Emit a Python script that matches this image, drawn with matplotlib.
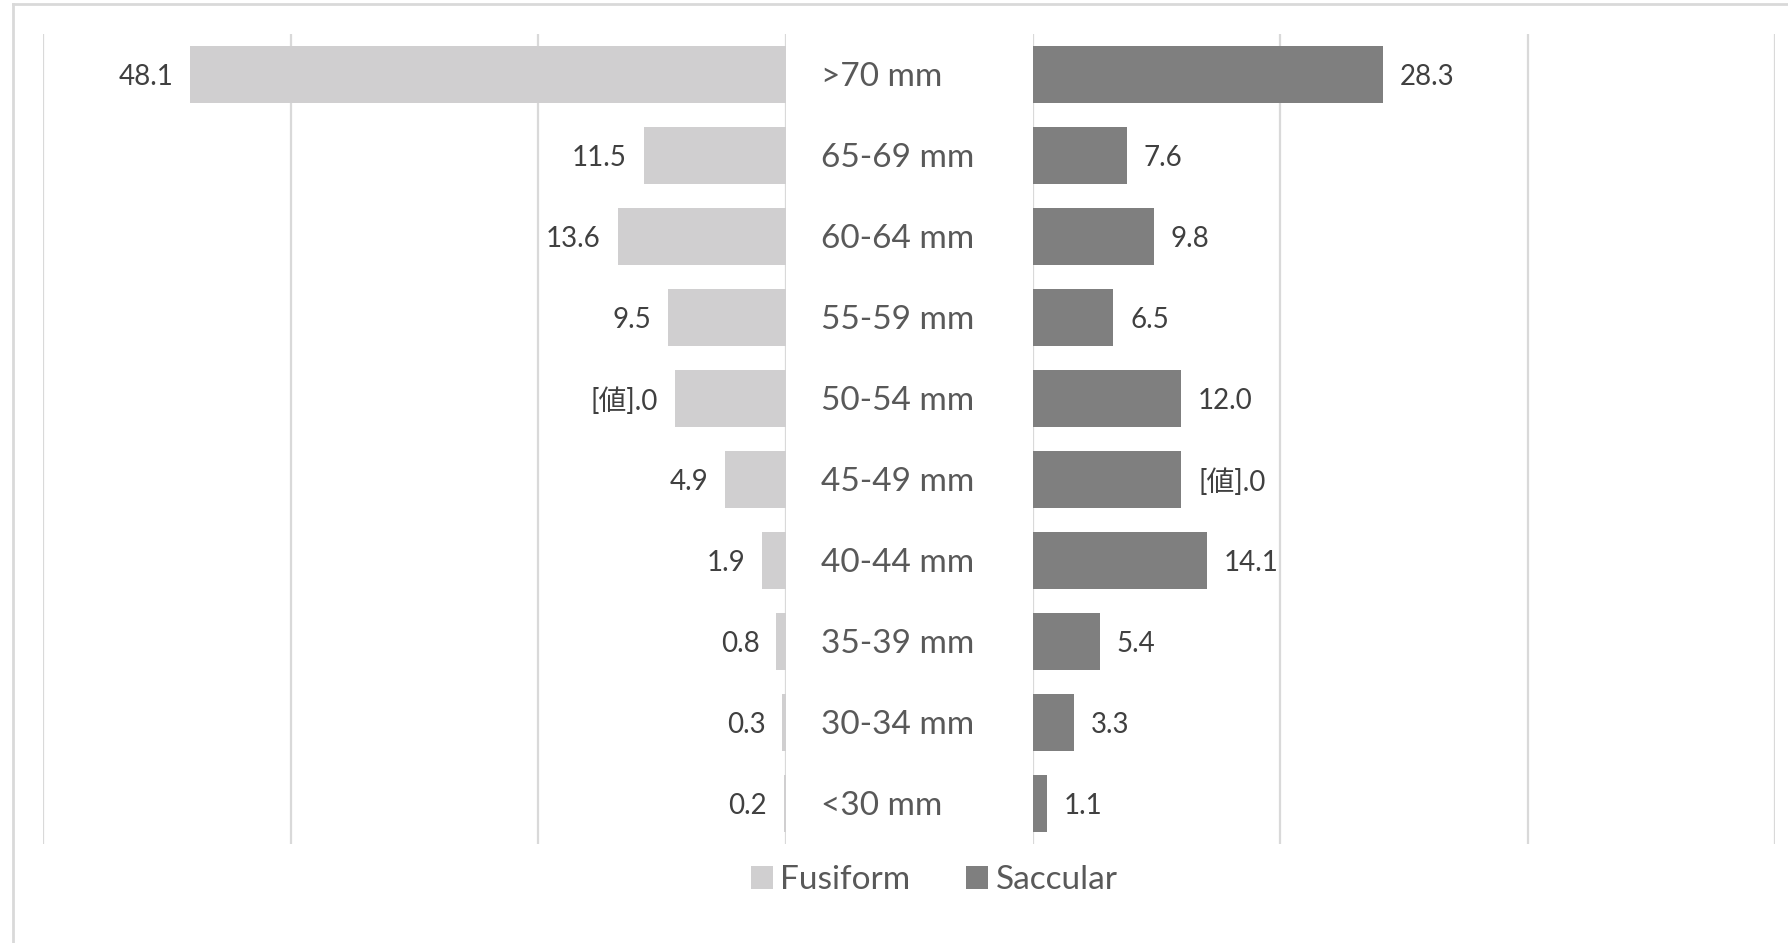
import matplotlib
matplotlib.use("Agg")
import matplotlib.pyplot as plt
from matplotlib.patches import Patch
from matplotlib.lines import Line2D
from matplotlib.transforms import blended_transform_factory

plt.rcParams['font.family'] = ['Lato', 'Noto Sans CJK JP', 'DejaVu Sans']

categories = [">70 mm", "65-69 mm", "60-64 mm", "55-59 mm", "50-54 mm",
              "45-49 mm", "40-44 mm", "35-39 mm", "30-34 mm", "<30 mm"]
fusiform = [48.1, 11.5, 13.6, 9.5, 9.0, 4.9, 1.9, 0.8, 0.3, 0.2]
fusiform_labels = ["48.1", "11.5", "13.6", "9.5", "[値].0", "4.9", "1.9", "0.8", "0.3", "0.2"]
saccular = [28.3, 7.6, 9.8, 6.5, 12.0, 12.0, 14.1, 5.4, 3.3, 1.1]
saccular_labels = ["28.3", "7.6", "9.8", "6.5", "12.0", "[値].0", "14.1", "5.4", "3.3", "1.1"]
series_names = ["Fusiform", "Saccular"]
x_ticks = [0, 20, 40, 60]

c_fus = "#D0CFD0"
c_sac = "#7F7F7F"
grid_c = "#D9D9D9"

W, H = 1788, 943
fig = plt.figure(figsize=(W / 100, H / 100), dpi=100)

bottom = 1 - 844 / H
height = 810 / H
axL = fig.add_axes([43 / W, bottom, (786 - 43) / W, height])
axR = fig.add_axes([1033 / W, bottom, (1775 - 1033) / W, height])

ypos = list(range(len(categories)))
bL = axL.barh(ypos, fusiform, height=0.70, color=c_fus, zorder=2)
bR = axR.barh(ypos, saccular, height=0.70, color=c_sac, zorder=2)

for ax in (axL, axR):
    ax.set_ylim(len(categories) - 0.5, -0.5)
    ax.set_xlim(0, 60)
    for t in x_ticks:
        ax.axvline(t, color=grid_c, lw=1.6, zorder=1)
    for s in ax.spines.values():
        s.set_visible(False)
    ax.set_xticks([])
    ax.set_yticks([])
    ax.patch.set_alpha(0)
axL.invert_xaxis()

for i, (v, lab) in enumerate(zip(fusiform, fusiform_labels)):
    axL.annotate(lab, (v, i), xytext=(-12, -1.6), textcoords="offset points",
                 ha="right", va="center", fontsize=20, color="#404040")
for i, (v, lab) in enumerate(zip(saccular, saccular_labels)):
    axR.annotate(lab, (v, i), xytext=(12, -1.6), textcoords="offset points",
                 ha="left", va="center", fontsize=20, color="#404040")

for i, c in enumerate(categories):
    axL.annotate(c, (821 / W, i), xycoords=("figure fraction", "data"),
                 xytext=(0, -1.6), textcoords="offset points",
                 ha="left", va="center", fontsize=24, color="#595959",
                 annotation_clip=False)

handles = [Patch(facecolor=c_fus, edgecolor="none"), Patch(facecolor=c_sac, edgecolor="none")]
fig.legend(handles, series_names, loc="center", bbox_to_anchor=(934 / W, 1 - 880 / H),
           ncol=2, frameon=False, fontsize=24, labelcolor="#595959",
           handlelength=0.66, handleheight=0.66, handletextpad=0.22, columnspacing=1.68)

# outer frame (left and top edges visible)
fig.add_artist(Line2D([13 / W, 13 / W], [0, 1 - 4 / H], color=grid_c, lw=2, transform=fig.transFigure))
fig.add_artist(Line2D([13 / W, 1], [1 - 4 / H, 1 - 4 / H], color=grid_c, lw=2, transform=fig.transFigure))

fig.savefig("out.png", dpi=100)
